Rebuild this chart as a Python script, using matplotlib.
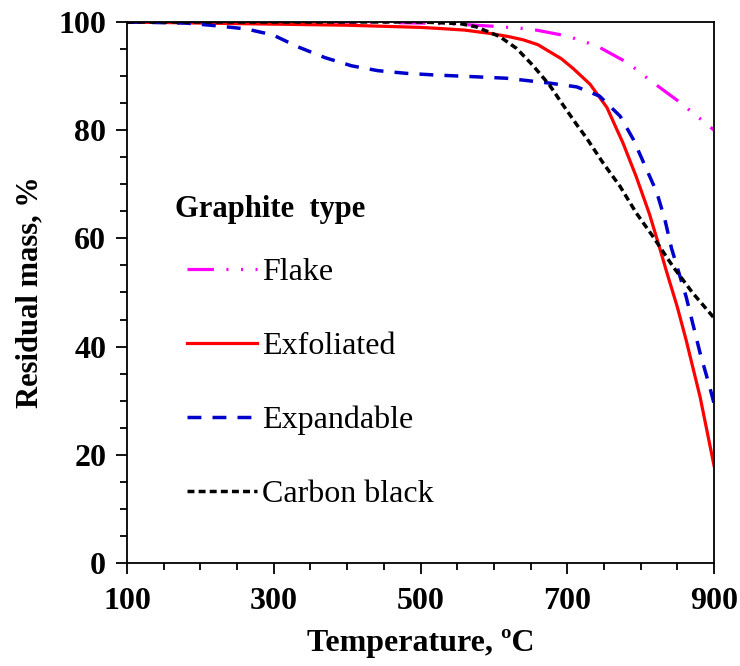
import matplotlib.pyplot as plt
from matplotlib.ticker import MultipleLocator

plt.rcParams["font.family"] = ["Liberation Serif", "DejaVu Serif"]
plt.rcParams["lines.scale_dashes"] = False

# TGA curves (temperature in C, residual mass in %)
flake_t = [100, 400, 500, 550, 600, 650, 700, 740, 783, 812, 849, 875, 900]
flake_m = [100, 100, 99.8, 99.6, 99.2, 98.7, 97.4, 95.6, 92.4, 89.3, 85.6, 82.8, 80.0]

exfol_t = [100, 200, 300, 400, 450, 500, 526, 560, 594, 620, 640, 660, 676, 692, 708, 731, 754,
           776, 794, 812, 826, 835, 850, 862, 881, 900]
exfol_m = [100, 99.8, 99.6, 99.4, 99.2, 99.0, 98.8, 98.5, 97.9, 97.3, 96.7, 95.8, 94.5, 93.2, 91.4,
           88.5, 84.2, 77.6, 71.4, 64.5, 58.2, 54.0, 47.3, 41.2, 30.7, 18.0]

expan_t = [100, 180, 222, 263, 299, 333, 370, 406, 442, 481, 520, 570, 617, 676, 713, 744, 772,
           790, 806, 822, 833, 842, 862, 881, 894, 900]
expan_m = [100, 99.8, 99.3, 98.7, 97.6, 95.4, 93.4, 91.9, 91.0, 90.5, 90.2, 89.9, 89.6, 88.7, 88.0,
           86.3, 82.6, 78.3, 73.4, 68.5, 63.5, 58.2, 49.2, 38.8, 32.6, 29.5]

cb_t = [100, 300, 500, 554, 576, 608, 631, 653, 676, 694, 713, 726, 749, 772, 794, 817, 844, 871, 900]
cb_m = [100, 100, 100, 99.7, 99.1, 97.3, 95.1, 92.0, 88.3, 84.7, 81.0, 78.6, 73.9, 69.6, 64.7,
        60.3, 54.8, 49.9, 45.3]

x_ticks = [100, 300, 500, 700, 900]

fig, ax = plt.subplots(figsize=(7.4, 6.66), dpi=100)
fig.subplots_adjust(left=0.1716, right=0.9649, top=0.967, bottom=0.1547)

ax.plot(flake_t, flake_m, color="#ff00ff", lw=2.3, dashes=(19, 9, 1.5, 9, 1.5, 9), label="Flake")
ax.plot(exfol_t, exfol_m, color="#ff0000", lw=2.3, label="Exfoliated")
ax.plot(expan_t, expan_m, color="#0000cc", lw=2.5, dashes=(10, 8), label="Expandable")
ax.plot(cb_t, cb_m, color="black", lw=2.5, dashes=(5, 3), label="Carbon black")

ax.set_xlim(100, 900)
ax.set_ylim(0, 100)
ax.set_xticks(x_ticks)
ax.xaxis.set_minor_locator(MultipleLocator(50))
ax.yaxis.set_major_locator(MultipleLocator(20))
ax.yaxis.set_minor_locator(MultipleLocator(5))
ax.tick_params(which="both", direction="out", top=False, right=False, width=1.3)
ax.tick_params(which="major", length=8, labelsize=23)
ax.tick_params(axis="x", which="major", pad=9)
ax.tick_params(axis="y", which="major", pad=7)
ax.tick_params(which="minor", length=5)
for lbl in ax.get_xticklabels() + ax.get_yticklabels():
    lbl.set_fontweight("bold")
for s in ax.spines.values():
    s.set_linewidth(1.3)

ax.set_xlabel("Temperature, \u00baC", fontsize=23, fontweight="bold", labelpad=10)
ax.set_ylabel("Residual mass, %", fontsize=22, fontweight="bold", labelpad=10)

leg = ax.legend(loc="upper left", bbox_to_anchor=(0.102, 0.701), frameon=False,
                title="Graphite  type", title_fontproperties={"weight": "bold", "size": 22},
                fontsize=23, handlelength=2.2, handletextpad=0.15, labelspacing=1.4,
                borderpad=0, borderaxespad=0)
leg._legend_box.align = "left"
leg.get_title().set_position((-12, -11))

plt.savefig("out.png", dpi=100)
